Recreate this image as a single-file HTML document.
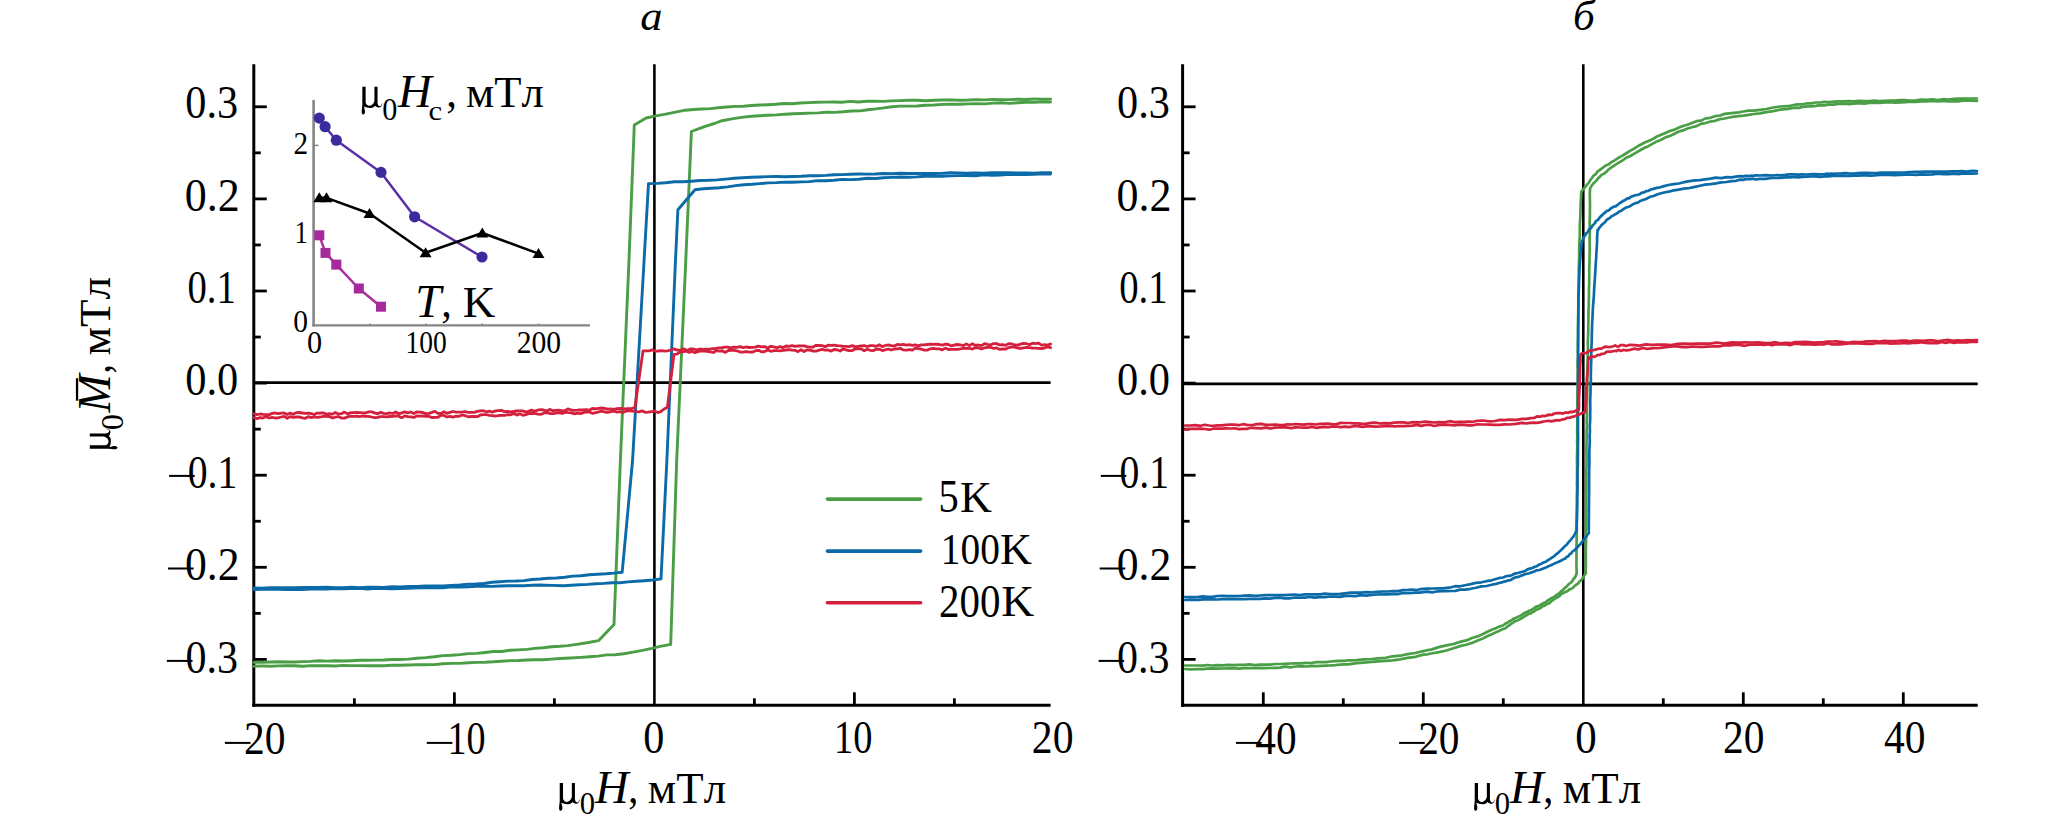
<!DOCTYPE html>
<html><head><meta charset="utf-8"><style>
html,body{margin:0;padding:0;background:#fff;width:2067px;height:817px;overflow:hidden}
svg text{font-family:"Liberation Serif", serif;fill:#000;font-kerning:none}
</style></head><body>
<svg width="2067" height="817" viewBox="0 0 2067 817" style="display:block"><rect width="2067" height="817" fill="#fff"/><line x1="253.8" y1="64.2" x2="253.8" y2="706.8" stroke="#000" stroke-width="3.0"/><line x1="252.3" y1="705.3" x2="1050.6" y2="705.3" stroke="#000" stroke-width="3.0"/><line x1="654.4" y1="64.2" x2="654.4" y2="705.3" stroke="#000" stroke-width="2.6"/><line x1="253.8" y1="382.7" x2="1050.6" y2="382.7" stroke="#000" stroke-width="2.8"/><line x1="253.8" y1="659.4000000000001" x2="266.8" y2="659.4000000000001" stroke="#000" stroke-width="2.8"/><line x1="253.8" y1="567.3000000000001" x2="266.8" y2="567.3000000000001" stroke="#000" stroke-width="2.8"/><line x1="253.8" y1="475.20000000000005" x2="266.8" y2="475.20000000000005" stroke="#000" stroke-width="2.8"/><line x1="253.8" y1="383.1" x2="266.8" y2="383.1" stroke="#000" stroke-width="2.8"/><line x1="253.8" y1="291.0" x2="266.8" y2="291.0" stroke="#000" stroke-width="2.8"/><line x1="253.8" y1="198.9" x2="266.8" y2="198.9" stroke="#000" stroke-width="2.8"/><line x1="253.8" y1="106.80000000000001" x2="266.8" y2="106.80000000000001" stroke="#000" stroke-width="2.8"/><line x1="253.8" y1="613.35" x2="260.8" y2="613.35" stroke="#000" stroke-width="2.8"/><line x1="253.8" y1="521.25" x2="260.8" y2="521.25" stroke="#000" stroke-width="2.8"/><line x1="253.8" y1="429.15000000000003" x2="260.8" y2="429.15000000000003" stroke="#000" stroke-width="2.8"/><line x1="253.8" y1="337.05" x2="260.8" y2="337.05" stroke="#000" stroke-width="2.8"/><line x1="253.8" y1="244.95000000000002" x2="260.8" y2="244.95000000000002" stroke="#000" stroke-width="2.8"/><line x1="253.8" y1="152.85000000000002" x2="260.8" y2="152.85000000000002" stroke="#000" stroke-width="2.8"/><line x1="454.4" y1="705.3" x2="454.4" y2="692.3" stroke="#000" stroke-width="2.8"/><line x1="854.4" y1="705.3" x2="854.4" y2="692.3" stroke="#000" stroke-width="2.8"/><line x1="354.4" y1="705.3" x2="354.4" y2="698.3" stroke="#000" stroke-width="2.8"/><line x1="554.4" y1="705.3" x2="554.4" y2="698.3" stroke="#000" stroke-width="2.8"/><line x1="754.4" y1="705.3" x2="754.4" y2="698.3" stroke="#000" stroke-width="2.8"/><line x1="954.4" y1="705.3" x2="954.4" y2="698.3" stroke="#000" stroke-width="2.8"/><line x1="1182.6" y1="64.2" x2="1182.6" y2="706.8" stroke="#000" stroke-width="3.0"/><line x1="1181.1" y1="705.3" x2="1977.7" y2="705.3" stroke="#000" stroke-width="3.0"/><line x1="1583.3" y1="64.2" x2="1583.3" y2="705.3" stroke="#000" stroke-width="2.6"/><line x1="1182.6" y1="383.9" x2="1977.7" y2="383.9" stroke="#000" stroke-width="2.8"/><line x1="1182.6" y1="659.4000000000001" x2="1195.6" y2="659.4000000000001" stroke="#000" stroke-width="2.8"/><line x1="1182.6" y1="567.3000000000001" x2="1195.6" y2="567.3000000000001" stroke="#000" stroke-width="2.8"/><line x1="1182.6" y1="475.20000000000005" x2="1195.6" y2="475.20000000000005" stroke="#000" stroke-width="2.8"/><line x1="1182.6" y1="383.1" x2="1195.6" y2="383.1" stroke="#000" stroke-width="2.8"/><line x1="1182.6" y1="291.0" x2="1195.6" y2="291.0" stroke="#000" stroke-width="2.8"/><line x1="1182.6" y1="198.9" x2="1195.6" y2="198.9" stroke="#000" stroke-width="2.8"/><line x1="1182.6" y1="106.80000000000001" x2="1195.6" y2="106.80000000000001" stroke="#000" stroke-width="2.8"/><line x1="1182.6" y1="613.35" x2="1189.6" y2="613.35" stroke="#000" stroke-width="2.8"/><line x1="1182.6" y1="521.25" x2="1189.6" y2="521.25" stroke="#000" stroke-width="2.8"/><line x1="1182.6" y1="429.15000000000003" x2="1189.6" y2="429.15000000000003" stroke="#000" stroke-width="2.8"/><line x1="1182.6" y1="337.05" x2="1189.6" y2="337.05" stroke="#000" stroke-width="2.8"/><line x1="1182.6" y1="244.95000000000002" x2="1189.6" y2="244.95000000000002" stroke="#000" stroke-width="2.8"/><line x1="1182.6" y1="152.85000000000002" x2="1189.6" y2="152.85000000000002" stroke="#000" stroke-width="2.8"/><line x1="1263.3" y1="705.3" x2="1263.3" y2="692.3" stroke="#000" stroke-width="2.8"/><line x1="1423.3" y1="705.3" x2="1423.3" y2="692.3" stroke="#000" stroke-width="2.8"/><line x1="1743.3" y1="705.3" x2="1743.3" y2="692.3" stroke="#000" stroke-width="2.8"/><line x1="1903.3" y1="705.3" x2="1903.3" y2="692.3" stroke="#000" stroke-width="2.8"/><line x1="1343.3" y1="705.3" x2="1343.3" y2="698.3" stroke="#000" stroke-width="2.8"/><line x1="1503.3" y1="705.3" x2="1503.3" y2="698.3" stroke="#000" stroke-width="2.8"/><line x1="1663.3" y1="705.3" x2="1663.3" y2="698.3" stroke="#000" stroke-width="2.8"/><line x1="1823.3" y1="705.3" x2="1823.3" y2="698.3" stroke="#000" stroke-width="2.8"/><text transform="translate(185.29,118.35) scale(0.9234,1.0)" x="0" y="0" font-size="45.8" style="">0.3</text><text transform="translate(1116.99,118.35) scale(0.9234,1.0)" x="0" y="0" font-size="45.8" style="">0.3</text><text transform="translate(184.72,210.55) scale(0.9608,1.0)" x="0" y="0" font-size="45.8" style="">0.2</text><text transform="translate(1116.42,210.55) scale(0.9608,1.0)" x="0" y="0" font-size="45.8" style="">0.2</text><text transform="translate(187.43,302.55) scale(0.8454,1.0)" x="0" y="0" font-size="45.8" style="">0.1</text><text transform="translate(1119.13,302.55) scale(0.8454,1.0)" x="0" y="0" font-size="45.8" style="">0.1</text><text transform="translate(185.28,394.95) scale(0.9263,1.0)" x="0" y="0" font-size="45.8" style="">0.0</text><text transform="translate(1116.98,394.95) scale(0.9263,1.0)" x="0" y="0" font-size="45.8" style="">0.0</text><text transform="translate(187.69,487.55) scale(0.8663,1.0)" x="0" y="0" font-size="45.8" style="">0.1</text><rect x="169.10" y="474.90" width="25.6" height="2.0" fill="#000"/><text transform="translate(1119.39,487.55) scale(0.8663,1.0)" x="0" y="0" font-size="45.8" style="">0.1</text><rect x="1100.80" y="474.90" width="25.6" height="2.0" fill="#000"/><text transform="translate(184.94,580.15) scale(0.9532,1.0)" x="0" y="0" font-size="45.8" style="">0.2</text><rect x="168.00" y="567.50" width="25.6" height="2.0" fill="#000"/><text transform="translate(1116.64,580.15) scale(0.9532,1.0)" x="0" y="0" font-size="45.8" style="">0.2</text><rect x="1099.70" y="567.50" width="25.6" height="2.0" fill="#000"/><text transform="translate(185.40,672.55) scale(0.9178,1.0)" x="0" y="0" font-size="45.8" style="">0.3</text><rect x="166.90" y="659.90" width="25.6" height="2.0" fill="#000"/><text transform="translate(1117.10,672.55) scale(0.9178,1.0)" x="0" y="0" font-size="45.8" style="">0.3</text><rect x="1098.60" y="659.90" width="25.6" height="2.0" fill="#000"/><text transform="translate(243.98,754.25) scale(0.9102,1.0)" x="0" y="0" font-size="45.6" style="">20</text><rect x="224.90" y="741.90" width="25.6" height="2.0" fill="#000"/><text transform="translate(447.45,754.25) scale(0.8355,1.0)" x="0" y="0" font-size="45.6" style="">10</text><rect x="426.80" y="741.90" width="25.6" height="2.0" fill="#000"/><text transform="translate(643.29,753.35) scale(0.9262,1.0)" x="0" y="0" font-size="45.6" style="">0</text><text transform="translate(834.02,753.35) scale(0.8430,1.0)" x="0" y="0" font-size="45.6" style="">10</text><text transform="translate(1031.87,753.35) scale(0.9150,1.0)" x="0" y="0" font-size="45.6" style="">20</text><text transform="translate(1255.29,754.25) scale(0.9052,1.0)" x="0" y="0" font-size="45.6" style="">40</text><rect x="1236.00" y="741.90" width="25.6" height="2.0" fill="#000"/><text transform="translate(1418.18,754.25) scale(0.9078,1.0)" x="0" y="0" font-size="45.6" style="">20</text><rect x="1399.10" y="741.90" width="25.6" height="2.0" fill="#000"/><text transform="translate(1575.16,753.35) scale(0.9417,1.0)" x="0" y="0" font-size="45.6" style="">0</text><text transform="translate(1723.08,753.35) scale(0.9078,1.0)" x="0" y="0" font-size="45.6" style="">20</text><text transform="translate(1884.09,753.35) scale(0.9099,1.0)" x="0" y="0" font-size="45.6" style="">40</text><text transform="translate(640.27,29.50) scale(1.0423,1.0)" x="0" y="0" font-size="42.8" style="font-style:italic;">а</text><text transform="translate(1572.90,29.50) scale(1.0099,1.0)" x="0" y="0" font-size="42.8" style="font-style:italic;">б</text><path transform="translate(558.90,802.90) scale(1.0)" d="M0.83,-19.83 L4.13,-19.83 L4.13,-4.4 C4.5,-2.4 6.0,-1.0 7.88,-1.0 C10.0,-1.0 12.2,-2.9 12.94,-5.8 L12.94,-19.83 L16.03,-19.83 L16.03,-3.75 C16.3,-1.5 17.5,-0.45 18.45,-0.45 C19.4,-0.45 20.1,-2.0 20.65,-3.75 L20.87,-3.09 C20.5,-1.2 19.3,0.87 18.0,0.87 C16.5,0.87 14.2,0.4 13.6,-0.89 C12.8,0.3 11.5,1.2 9.5,1.25 C7.0,1.4 4.5,1.0 2.37,-0.1 C2.8,1.5 3.6,4.0 3.47,5.06 C3.5,6.5 2.7,7.92 1.71,7.92 C0.8,7.92 0.17,6.5 0.17,5.5 C0.17,3.5 0.83,0 0.83,-2.87 Z" fill="#000"/><text transform="translate(579.73,814.30) scale(1.0024,1.0)" x="0" y="0" font-size="30.6" style="">0</text><text transform="translate(595.10,802.90) scale(1.0206,1.0)" x="0" y="0" font-size="45.6" style="font-style:italic;">H</text><text transform="translate(628.37,802.90) scale(0.9156,1.0)" x="0" y="0" font-size="44" style="">,</text><text transform="translate(647.87,802.90) scale(1.0196,1.0)" x="0" y="0" font-size="44" style="">мТл</text><path transform="translate(1473.90,802.90) scale(1.0)" d="M0.83,-19.83 L4.13,-19.83 L4.13,-4.4 C4.5,-2.4 6.0,-1.0 7.88,-1.0 C10.0,-1.0 12.2,-2.9 12.94,-5.8 L12.94,-19.83 L16.03,-19.83 L16.03,-3.75 C16.3,-1.5 17.5,-0.45 18.45,-0.45 C19.4,-0.45 20.1,-2.0 20.65,-3.75 L20.87,-3.09 C20.5,-1.2 19.3,0.87 18.0,0.87 C16.5,0.87 14.2,0.4 13.6,-0.89 C12.8,0.3 11.5,1.2 9.5,1.25 C7.0,1.4 4.5,1.0 2.37,-0.1 C2.8,1.5 3.6,4.0 3.47,5.06 C3.5,6.5 2.7,7.92 1.71,7.92 C0.8,7.92 0.17,6.5 0.17,5.5 C0.17,3.5 0.83,0 0.83,-2.87 Z" fill="#000"/><text transform="translate(1494.73,814.30) scale(1.0024,1.0)" x="0" y="0" font-size="30.6" style="">0</text><text transform="translate(1510.10,802.90) scale(1.0206,1.0)" x="0" y="0" font-size="45.6" style="font-style:italic;">H</text><text transform="translate(1543.37,802.90) scale(0.9156,1.0)" x="0" y="0" font-size="44" style="">,</text><text transform="translate(1562.87,802.90) scale(1.0196,1.0)" x="0" y="0" font-size="44" style="">мТл</text><g transform="translate(109.6,449.3) rotate(-90)"><path transform="translate(-0.20,0.00) scale(1.0)" d="M0.83,-19.83 L4.13,-19.83 L4.13,-4.4 C4.5,-2.4 6.0,-1.0 7.88,-1.0 C10.0,-1.0 12.2,-2.9 12.94,-5.8 L12.94,-19.83 L16.03,-19.83 L16.03,-3.75 C16.3,-1.5 17.5,-0.45 18.45,-0.45 C19.4,-0.45 20.1,-2.0 20.65,-3.75 L20.87,-3.09 C20.5,-1.2 19.3,0.87 18.0,0.87 C16.5,0.87 14.2,0.4 13.6,-0.89 C12.8,0.3 11.5,1.2 9.5,1.25 C7.0,1.4 4.5,1.0 2.37,-0.1 C2.8,1.5 3.6,4.0 3.47,5.06 C3.5,6.5 2.7,7.92 1.71,7.92 C0.8,7.92 0.17,6.5 0.17,5.5 C0.17,3.5 0.83,0 0.83,-2.87 Z" fill="#000"/><text transform="translate(19.17,12.90) scale(1.0564,1.0)" x="0" y="0" font-size="30.6" style="">0</text><text transform="translate(36.84,0.00) scale(1.0068,1.0)" x="0" y="0" font-size="45.5" style="font-style:italic;">M</text><rect x="48.6" y="-33.7" width="22.5" height="2.3" fill="#000"/><text transform="translate(75.69,0.00) scale(0.8393,1.0)" x="0" y="0" font-size="44" style="">,</text><text transform="translate(93.87,0.00) scale(1.0236,1.0)" x="0" y="0" font-size="44" style="">мТл</text></g><line x1="827.4" y1="499.1" x2="920.6" y2="499.1" stroke="#4a9e45" stroke-width="3.6" stroke-linecap="round"/><line x1="827.4" y1="551.1" x2="920.6" y2="551.1" stroke="#0b6aa8" stroke-width="3.6" stroke-linecap="round"/><line x1="827.4" y1="602.8" x2="920.6" y2="602.8" stroke="#d41f3d" stroke-width="3.6" stroke-linecap="round"/><text transform="translate(938.45,511.80) scale(0.8913,1.0)" x="0" y="0" font-size="45.4" style="">5</text><text transform="translate(959.93,511.60) scale(0.9935,1.0)" x="0" y="0" font-size="44.5" style="">K</text><text transform="translate(940.84,564.20) scale(0.8711,1.0)" x="0" y="0" font-size="45.2" style="">100</text><text transform="translate(1000.03,564.10) scale(0.9935,1.0)" x="0" y="0" font-size="44.5" style="">K</text><text transform="translate(939.00,616.60) scale(0.9005,1.0)" x="0" y="0" font-size="45.5" style="">200</text><text transform="translate(1001.28,616.20) scale(1.0264,1.0)" x="0" y="0" font-size="44.5" style="">K</text><path d="M1050.6,99.1 L1042.4,99.1 L1034.1,99.0 L1025.9,99.5 L1017.7,99.2 L1009.4,99.6 L1001.2,99.6 L992.9,99.4 L984.7,99.9 L976.5,99.6 L968.2,100.0 L960.0,100.2 L951.4,99.9 L942.9,100.0 L934.3,100.3 L925.7,100.7 L917.1,100.2 L908.6,100.3 L900.0,100.6 L891.7,100.9 L883.3,101.4 L875.0,101.3 L866.7,101.3 L858.3,102.0 L850.0,101.4 L841.7,102.3 L833.3,102.0 L825.0,102.1 L816.7,102.3 L808.3,102.6 L800.0,103.0 L792.0,103.7 L784.0,103.5 L776.0,104.3 L768.0,104.7 L760.0,105.0 L751.7,105.5 L743.4,106.2 L735.1,106.4 L726.8,107.0 L718.5,107.7 L710.2,108.6 L701.9,109.0 L693.6,109.5 L685.3,110.2 L675.5,112.2 L665.7,114.1 L655.9,115.9 L646.1,118.0 L634.3,124.9 L629.0,260.0 L620.4,460.0 L614.0,624.5 L598.7,640.6 L588.4,642.5 L578.2,644.1 L567.9,645.6 L560.0,646.3 L551.7,646.8 L543.3,647.7 L535.0,648.4 L526.7,649.4 L518.3,649.9 L510.0,650.3 L501.7,651.5 L493.3,651.5 L485.0,652.5 L476.7,653.4 L468.3,653.6 L460.0,654.6 L451.4,655.3 L442.9,655.6 L434.3,656.8 L425.7,657.6 L417.1,658.2 L408.6,659.1 L400.0,659.5 L391.9,659.5 L383.8,660.0 L375.7,660.1 L367.6,660.2 L359.4,660.3 L351.3,660.7 L343.2,661.0 L335.1,660.8 L327.0,661.1 L318.9,660.8 L310.8,661.4 L302.7,661.6 L294.6,662.0 L286.4,662.0 L278.3,661.7 L270.2,662.0 L262.1,662.4 L254.0,662.4" fill="none" stroke="#4a9e45" stroke-width="2.9" stroke-linejoin="round" stroke-linecap="round" opacity="1.0"/><path d="M254.0,666.3 L262.1,665.9 L270.2,666.2 L278.3,665.9 L286.4,665.8 L294.6,665.7 L302.7,666.2 L310.8,665.6 L318.9,665.7 L327.0,665.7 L335.1,666.0 L343.2,665.4 L351.3,665.6 L359.4,665.6 L367.6,665.8 L375.7,665.7 L383.8,665.7 L391.9,665.2 L400.0,665.3 L408.6,665.0 L417.1,664.6 L425.7,664.8 L434.3,664.6 L442.9,663.7 L451.4,663.4 L460.0,663.4 L468.3,662.8 L476.7,662.4 L485.0,662.2 L493.3,661.8 L501.7,661.2 L510.0,660.6 L518.3,660.5 L526.7,660.0 L535.0,659.8 L543.3,659.7 L551.7,659.1 L560.0,658.5 L570.5,658.0 L581.1,657.4 L589.6,656.8 L598.1,656.1 L606.7,654.9 L615.2,654.8 L623.7,653.8 L633.1,652.1 L642.5,650.3 L651.9,648.4 L661.3,646.2 L670.7,644.4 L676.7,460.0 L685.8,260.0 L691.4,131.5 L699.0,128.7 L706.7,125.8 L714.4,123.5 L722.0,120.7 L731.8,118.9 L741.6,117.4 L751.4,116.3 L759.8,115.7 L768.1,115.2 L776.5,114.9 L784.8,114.3 L793.2,113.8 L801.5,113.5 L809.9,113.1 L818.2,112.9 L826.6,112.2 L834.9,112.4 L843.3,111.8 L851.6,111.0 L860.0,110.9 L868.0,109.7 L876.0,108.9 L884.0,107.9 L892.0,106.8 L900.0,106.1 L908.6,106.1 L917.1,106.0 L925.7,105.3 L934.3,105.0 L942.9,104.4 L951.4,104.2 L960.0,104.2 L968.2,103.9 L976.5,103.6 L984.7,103.9 L992.9,103.1 L1001.2,102.8 L1009.4,103.4 L1017.7,102.8 L1025.9,102.3 L1034.1,102.4 L1042.4,101.8 L1050.6,102.0" fill="none" stroke="#4a9e45" stroke-width="2.9" stroke-linejoin="round" stroke-linecap="round" opacity="1.0"/><path d="M1050.6,172.6 L1042.2,172.7 L1033.9,173.1 L1025.5,173.0 L1017.1,172.9 L1008.8,172.6 L1000.4,172.7 L992.0,172.6 L983.7,173.1 L975.3,173.0 L966.9,173.2 L958.6,172.9 L950.2,172.8 L941.8,173.4 L933.5,173.5 L925.1,173.5 L916.7,173.5 L908.4,173.5 L900.0,173.3 L891.8,173.7 L883.5,173.5 L875.3,174.0 L867.1,174.1 L858.8,174.0 L850.6,174.2 L842.4,174.6 L834.1,174.8 L825.9,175.4 L817.6,175.8 L809.4,175.7 L801.2,176.3 L792.9,176.5 L784.7,176.7 L776.5,176.5 L768.2,176.6 L760.0,177.0 L751.4,177.3 L742.8,177.8 L734.3,178.3 L725.7,179.1 L717.1,179.9 L708.5,180.3 L700.0,180.5 L691.4,181.2 L682.8,181.8 L674.2,181.7 L665.7,182.7 L657.1,183.4 L648.5,183.6 L644.1,260.0 L632.6,460.0 L622.2,572.2 L614.0,573.1 L605.8,573.8 L597.5,574.2 L589.3,574.7 L581.1,575.8 L572.9,576.1 L564.7,577.2 L556.4,578.0 L548.2,578.2 L540.0,579.0 L532.0,579.5 L524.0,580.6 L516.0,581.0 L508.0,581.1 L500.0,581.7 L492.0,582.3 L484.0,583.5 L476.0,584.0 L468.0,584.1 L460.0,585.0 L451.4,585.5 L442.9,586.0 L434.3,586.0 L425.7,586.0 L417.1,586.5 L408.6,586.4 L400.0,587.0 L391.9,586.7 L383.8,587.5 L375.7,587.3 L367.6,587.2 L359.4,587.6 L351.3,587.3 L343.2,587.7 L335.1,587.7 L327.0,587.3 L318.9,587.4 L310.8,587.4 L302.7,587.5 L294.6,587.8 L286.4,587.6 L278.3,587.8 L270.2,587.6 L262.1,588.3 L254.0,588.0" fill="none" stroke="#0b6aa8" stroke-width="2.9" stroke-linejoin="round" stroke-linecap="round" opacity="1.0"/><path d="M254.0,589.5 L262.1,589.3 L270.2,589.4 L278.3,589.4 L286.4,589.6 L294.6,589.2 L302.7,589.5 L310.8,589.1 L318.9,589.1 L327.0,589.0 L335.1,588.6 L343.2,588.8 L351.3,588.6 L359.4,588.4 L367.6,589.0 L375.7,588.4 L383.8,588.6 L391.9,588.7 L400.0,588.5 L408.6,588.3 L417.1,587.9 L425.7,587.9 L434.3,587.7 L442.9,587.7 L451.4,586.9 L460.0,587.0 L468.0,586.8 L476.0,586.4 L484.0,586.2 L492.0,586.4 L500.0,586.0 L508.0,585.8 L516.0,585.8 L524.0,585.7 L532.0,585.2 L540.0,585.0 L551.8,585.4 L563.5,585.7 L571.6,585.2 L579.6,584.8 L587.7,584.4 L595.8,583.8 L603.9,583.4 L612.0,582.8 L620.0,582.7 L628.1,581.9 L636.3,581.3 L644.5,580.7 L652.8,580.0 L661.0,578.9 L666.9,460.0 L675.5,260.0 L677.9,209.8 L695.0,189.7 L703.1,188.7 L711.2,188.2 L719.4,187.8 L727.5,186.9 L735.6,185.6 L743.8,184.8 L751.9,184.3 L760.0,183.6 L768.2,182.9 L776.5,182.6 L784.7,182.1 L792.9,182.2 L801.2,181.9 L809.4,181.6 L817.6,180.6 L825.9,180.7 L834.1,180.2 L842.4,179.4 L850.6,179.6 L858.8,179.3 L867.1,178.3 L875.3,178.5 L883.5,177.7 L891.8,177.4 L900.0,177.0 L908.4,177.2 L916.7,176.9 L925.1,176.2 L933.5,176.3 L941.8,176.2 L950.2,175.9 L958.6,175.6 L966.9,175.5 L975.3,175.7 L983.7,174.9 L992.0,175.2 L1000.4,175.0 L1008.8,174.4 L1017.1,174.5 L1025.5,174.6 L1033.9,174.3 L1042.2,173.8 L1050.6,174.0" fill="none" stroke="#0b6aa8" stroke-width="2.9" stroke-linejoin="round" stroke-linecap="round" opacity="1.0"/><path d="M1050.6,344.0 L1047.6,345.1 L1044.6,344.7 L1041.6,345.1 L1038.6,343.2 L1035.6,343.6 L1032.6,343.2 L1029.6,344.8 L1026.5,343.7 L1023.5,343.4 L1020.5,344.1 L1017.5,345.2 L1014.5,345.0 L1011.5,343.8 L1008.5,343.6 L1005.5,345.4 L1002.5,344.6 L999.5,344.9 L996.5,343.6 L993.5,343.6 L990.5,345.0 L987.5,344.4 L984.5,343.7 L981.4,345.6 L978.4,345.0 L975.4,345.4 L972.4,343.8 L969.4,345.6 L966.4,343.9 L963.4,345.6 L960.4,344.8 L957.4,344.5 L954.4,345.0 L951.4,345.9 L948.4,344.5 L945.4,344.2 L942.4,345.1 L939.4,344.5 L936.3,344.2 L933.3,344.4 L930.3,344.2 L927.3,344.5 L924.3,344.8 L921.3,344.8 L918.3,345.8 L915.3,344.8 L912.3,345.3 L909.3,344.6 L906.3,345.1 L903.3,344.4 L900.3,344.9 L897.3,344.4 L894.3,346.0 L891.2,345.6 L888.2,344.9 L885.2,345.5 L882.2,346.6 L879.2,344.8 L876.2,346.4 L873.2,345.6 L870.2,345.7 L867.2,346.5 L864.2,345.6 L861.2,345.8 L858.2,346.3 L855.2,346.9 L852.2,345.6 L849.2,346.7 L846.1,346.4 L843.1,346.3 L840.1,345.8 L837.1,345.7 L834.1,345.1 L831.1,345.3 L828.1,345.2 L825.1,346.7 L822.1,345.7 L819.1,345.5 L816.1,345.3 L813.1,347.0 L810.1,347.1 L807.1,346.7 L804.1,345.9 L801.0,345.8 L798.0,346.0 L795.0,346.4 L792.0,345.7 L789.0,346.4 L786.0,346.0 L783.0,347.6 L780.0,346.6 L776.9,347.7 L773.8,346.9 L770.8,346.3 L767.7,348.0 L764.6,346.6 L761.5,346.8 L758.5,346.1 L755.4,347.1 L752.3,347.4 L749.2,347.5 L746.2,347.0 L743.1,347.7 L740.0,346.7 L736.9,347.4 L733.8,347.1 L730.8,347.9 L727.7,347.2 L724.6,347.2 L721.5,347.9 L718.5,347.9 L715.4,348.7 L712.3,348.7 L709.2,349.3 L706.2,349.2 L703.1,349.4 L700.0,349.0 L696.7,349.9 L693.5,349.0 L690.2,349.0 L686.9,350.5 L683.7,348.8 L680.4,350.2 L677.1,350.1 L673.9,348.9 L670.6,350.0 L667.5,350.8 L664.5,351.1 L661.4,350.6 L658.3,351.0 L655.3,351.2 L652.2,349.9 L649.1,350.8 L646.1,350.9 L643.0,351.0 L634.9,407.7 L631.2,408.6 L627.5,408.7 L623.7,408.9 L620.0,408.3 L616.9,408.6 L613.8,409.4 L610.8,409.0 L607.7,409.2 L604.6,408.3 L601.5,408.0 L598.5,408.3 L595.4,408.9 L592.3,408.5 L589.2,410.2 L586.2,409.7 L583.1,410.0 L580.0,409.8 L577.0,410.1 L574.0,410.3 L570.9,410.0 L567.9,408.9 L564.9,410.8 L561.9,410.7 L558.8,410.2 L555.8,410.4 L552.8,410.7 L549.8,409.4 L546.7,411.0 L543.7,410.0 L540.7,409.6 L537.7,410.1 L534.7,411.2 L531.6,410.1 L528.6,411.4 L525.6,411.9 L522.6,410.9 L519.5,410.8 L516.5,411.0 L513.5,411.5 L510.5,411.8 L507.4,411.5 L504.4,411.6 L501.4,410.4 L498.4,410.7 L495.3,411.0 L492.3,412.1 L489.3,411.2 L486.3,411.8 L483.3,410.7 L480.2,410.8 L477.2,411.3 L474.2,412.3 L471.2,412.4 L468.1,412.4 L465.1,411.6 L462.1,412.2 L459.1,412.1 L456.0,412.2 L453.0,411.5 L450.0,412.4 L447.0,413.3 L444.0,411.8 L441.0,413.5 L437.9,413.4 L434.9,411.4 L431.9,412.4 L428.9,413.3 L425.9,413.6 L422.9,412.5 L419.8,412.1 L416.8,412.0 L413.8,413.6 L410.8,412.0 L407.8,412.9 L404.8,411.9 L401.8,412.8 L398.7,413.8 L395.7,412.0 L392.7,413.5 L389.7,412.9 L386.7,413.7 L383.7,413.3 L380.6,412.3 L377.6,413.8 L374.6,412.9 L371.6,411.9 L368.6,411.9 L365.6,413.0 L362.6,412.9 L359.5,412.6 L356.5,412.3 L353.5,412.7 L350.5,412.7 L347.5,413.9 L344.5,412.1 L341.4,413.7 L338.4,413.9 L335.4,412.4 L332.4,414.2 L329.4,413.7 L326.4,414.2 L323.4,412.8 L320.3,413.0 L317.3,413.1 L314.3,414.5 L311.3,413.6 L308.3,413.1 L305.3,413.3 L302.2,413.0 L299.2,412.5 L296.2,412.6 L293.2,414.3 L290.2,413.1 L287.2,414.5 L284.2,413.0 L281.1,413.1 L278.1,413.7 L275.1,413.0 L272.1,413.4 L269.1,414.7 L266.1,414.6 L263.0,414.4 L260.0,414.0 L257.0,414.7 L254.0,413.8" fill="none" stroke="#d41f3d" stroke-width="2.8" stroke-linejoin="round" stroke-linecap="round" opacity="1.0"/><path d="M254.0,417.6 L257.0,418.6 L260.0,417.7 L263.0,418.0 L266.1,416.5 L269.1,418.0 L272.1,417.4 L275.1,418.0 L278.1,417.8 L281.1,417.0 L284.2,416.4 L287.2,418.3 L290.2,416.6 L293.2,417.3 L296.2,417.0 L299.2,416.9 L302.2,417.8 L305.3,418.3 L308.3,416.7 L311.3,417.6 L314.3,416.8 L317.3,417.3 L320.3,417.0 L323.4,416.4 L326.4,416.4 L329.4,416.5 L332.4,418.0 L335.4,417.1 L338.4,416.5 L341.4,418.0 L344.5,418.1 L347.5,416.9 L350.5,416.2 L353.5,416.3 L356.5,416.1 L359.5,416.6 L362.6,416.0 L365.6,416.3 L368.6,416.4 L371.6,417.0 L374.6,417.7 L377.6,417.4 L380.6,416.6 L383.7,416.6 L386.7,416.8 L389.7,416.5 L392.7,416.4 L395.7,415.8 L398.7,416.2 L401.8,417.7 L404.8,415.9 L407.8,416.7 L410.8,416.9 L413.8,417.4 L416.8,416.0 L419.8,416.1 L422.9,416.0 L425.9,416.3 L428.9,416.4 L431.9,417.5 L434.9,417.3 L437.9,417.3 L441.0,415.4 L444.0,415.4 L447.0,416.9 L450.0,416.4 L453.0,417.2 L456.1,416.2 L459.1,416.3 L462.1,415.0 L465.2,415.7 L468.2,416.8 L471.2,416.5 L474.3,416.5 L477.3,416.7 L480.4,415.0 L483.4,414.6 L486.4,414.6 L489.5,415.3 L492.5,415.6 L495.5,416.1 L498.6,415.5 L501.6,415.3 L504.6,415.4 L507.7,414.7 L510.7,414.8 L513.8,413.6 L516.8,415.1 L519.8,413.8 L522.9,415.3 L525.9,414.6 L528.9,413.7 L532.0,413.3 L535.0,413.5 L538.0,414.2 L541.1,414.3 L544.1,412.9 L547.1,412.7 L550.2,413.6 L553.2,413.7 L556.2,413.2 L559.3,412.7 L562.3,413.5 L565.4,412.1 L568.4,412.6 L571.4,412.9 L574.5,413.9 L577.5,413.1 L580.5,413.6 L583.6,412.6 L586.6,412.0 L589.6,411.9 L592.7,413.4 L595.7,412.7 L598.8,411.8 L601.8,411.1 L604.8,412.0 L607.9,412.3 L610.9,411.7 L613.9,411.2 L617.0,412.1 L620.0,411.6 L623.1,412.5 L626.3,411.0 L629.4,410.6 L632.6,411.2 L635.7,411.4 L638.8,412.0 L642.0,410.9 L645.1,412.3 L648.2,412.1 L651.4,411.6 L654.5,411.0 L657.7,412.6 L660.8,411.6 L664.1,409.0 L667.4,407.2 L674.0,354.3 L676.9,354.2 L679.9,352.0 L682.8,351.8 L685.8,351.2 L688.9,352.3 L691.9,351.3 L694.9,352.7 L698.0,351.6 L701.0,350.9 L704.1,351.0 L707.1,351.4 L710.1,351.9 L713.2,352.5 L716.2,350.7 L719.2,351.2 L722.3,350.8 L725.3,352.4 L728.4,350.5 L731.4,350.3 L734.4,350.3 L737.5,351.0 L740.5,352.1 L743.5,352.0 L746.6,351.7 L749.6,352.2 L752.7,352.0 L755.7,350.7 L758.7,350.3 L761.8,351.9 L764.8,351.5 L767.9,349.9 L770.9,351.3 L773.9,350.6 L777.0,350.6 L780.0,350.8 L783.0,350.4 L786.0,350.0 L789.0,349.6 L792.0,350.2 L795.0,350.3 L798.0,351.6 L801.0,349.7 L804.1,351.5 L807.1,349.8 L810.1,350.1 L813.1,351.1 L816.1,351.1 L819.1,350.2 L822.1,349.3 L825.1,350.2 L828.1,350.0 L831.1,351.1 L834.1,349.5 L837.1,349.8 L840.1,351.0 L843.1,349.0 L846.1,349.8 L849.2,350.7 L852.2,350.5 L855.2,348.9 L858.2,348.9 L861.2,348.9 L864.2,350.7 L867.2,349.2 L870.2,350.3 L873.2,350.6 L876.2,349.3 L879.2,349.1 L882.2,350.6 L885.2,349.8 L888.2,349.0 L891.2,350.0 L894.3,349.0 L897.3,348.9 L900.3,348.3 L903.3,349.9 L906.3,350.2 L909.3,349.6 L912.3,350.2 L915.3,348.2 L918.3,348.6 L921.3,349.1 L924.3,350.1 L927.3,350.1 L930.3,348.8 L933.3,348.4 L936.3,348.8 L939.4,348.9 L942.4,349.8 L945.4,348.1 L948.4,349.5 L951.4,349.3 L954.4,349.4 L957.4,349.3 L960.4,348.9 L963.4,348.3 L966.4,348.2 L969.4,348.3 L972.4,349.1 L975.4,347.6 L978.4,347.8 L981.4,349.0 L984.5,347.8 L987.5,347.4 L990.5,347.3 L993.5,348.4 L996.5,347.9 L999.5,349.3 L1002.5,349.0 L1005.5,349.2 L1008.5,347.6 L1011.5,347.1 L1014.5,347.1 L1017.5,348.0 L1020.5,348.4 L1023.5,347.8 L1026.5,347.3 L1029.6,347.7 L1032.6,348.1 L1035.6,348.2 L1038.6,348.3 L1041.6,348.5 L1044.6,348.0 L1047.6,346.8 L1050.6,347.6" fill="none" stroke="#d41f3d" stroke-width="2.8" stroke-linejoin="round" stroke-linecap="round" opacity="1.0"/><path d="M1977.0,98.5 L1971.2,98.5 L1963.3,98.7 L1958.6,98.7 L1953.8,98.9 L1948.6,99.6 L1943.5,99.2 L1938.0,100.0 L1932.5,99.4 L1927.0,99.9 L1921.4,99.6 L1915.8,100.4 L1910.4,100.6 L1905.0,100.2 L1899.9,100.2 L1895.1,100.7 L1890.1,100.6 L1885.0,100.8 L1879.7,101.1 L1874.7,100.6 L1869.4,101.1 L1864.1,101.0 L1858.8,100.9 L1853.7,101.4 L1848.7,101.1 L1843.5,101.4 L1838.7,101.4 L1833.8,101.6 L1829.1,102.1 L1824.4,101.9 L1820.0,102.5 L1815.7,102.5 L1811.3,103.3 L1807.2,103.3 L1803.1,104.3 L1799.1,104.4 L1795.1,104.7 L1787.6,106.2 L1780.1,106.5 L1773.2,107.5 L1766.3,109.0 L1760.0,109.8 L1754.0,110.6 L1748.5,110.6 L1743.3,111.5 L1738.6,112.4 L1733.8,112.8 L1729.3,113.3 L1724.6,113.9 L1720.0,115.5 L1715.1,116.2 L1710.5,117.8 L1705.6,118.4 L1701.2,120.6 L1696.4,121.2 L1691.9,123.0 L1687.4,124.8 L1682.9,126.0 L1678.5,127.7 L1674.0,129.9 L1669.8,131.0 L1665.4,132.9 L1661.2,134.7 L1656.9,136.5 L1652.8,139.1 L1648.4,140.9 L1644.2,142.7 L1639.6,145.2 L1634.9,148.2 L1630.4,150.6 L1625.9,153.5 L1621.6,156.1 L1617.7,158.3 L1614.2,160.6 L1611.3,162.1 L1608.8,164.2 L1606.4,165.2 L1604.3,166.5 L1602.3,168.1 L1600.5,169.5 L1598.9,170.5 L1597.1,172.1 L1595.4,174.5 L1593.5,175.7 L1591.9,178.0 L1590.4,179.8 L1588.9,182.5 L1587.5,184.2 L1586.1,186.0 L1585.1,187.3 L1584.3,187.7 L1583.6,189.3 L1582.8,189.6 L1582.5,190.0 L1582.2,190.7 L1581.9,191.0 L1581.5,192.0 L1581.2,191.8 L1581.1,196.6 L1580.7,202.2 L1580.5,209.7 L1580.3,217.6 L1580.0,222.0 L1579.8,226.3 L1579.8,231.2 L1579.7,236.4 L1579.4,242.3 L1579.2,248.0 L1579.2,251.6 L1579.2,255.7 L1579.1,260.1 L1578.9,264.8 L1578.8,268.9 L1578.8,273.4 L1578.8,278.7 L1578.7,284.5 L1578.6,289.3 L1578.5,292.8 L1578.3,297.1 L1578.4,301.5 L1578.4,306.1 L1578.2,309.9 L1578.3,314.1 L1578.1,318.8 L1578.1,323.2 L1578.0,328.1 L1578.1,332.3 L1578.1,337.2 L1577.9,342.2 L1577.9,346.3 L1577.8,351.5 L1578.0,356.4 L1577.8,360.7 L1577.6,365.9 L1577.8,370.5 L1577.7,375.5 L1577.8,380.6 L1577.6,385.6 L1577.5,390.2 L1577.5,394.9 L1577.4,400.3 L1577.3,404.3 L1577.6,408.2 L1577.3,412.9 L1577.4,417.2 L1577.4,421.0 L1577.3,425.9 L1577.2,431.2 L1577.3,435.8 L1577.1,440.7 L1577.3,445.2 L1577.2,449.3 L1577.1,453.2 L1577.0,457.4 L1577.0,462.2 L1577.1,466.5 L1577.1,470.2 L1577.0,474.6 L1577.1,478.9 L1576.9,483.2 L1577.1,487.0 L1577.0,491.1 L1576.8,495.5 L1577.0,500.2 L1576.9,503.7 L1576.9,507.7 L1576.8,512.3 L1576.8,516.1 L1576.8,520.4 L1576.7,524.7 L1576.8,529.1 L1576.7,533.4 L1576.7,537.4 L1576.6,542.0 L1576.5,546.9 L1576.5,550.7 L1576.5,556.1 L1576.5,560.0 L1576.4,564.5 L1576.6,569.6 L1576.6,574.2 L1576.1,574.6 L1575.8,575.5 L1575.6,576.3 L1574.9,577.2 L1574.6,578.2 L1573.7,578.6 L1573.0,579.5 L1572.3,581.3 L1571.2,582.4 L1570.0,583.2 L1568.5,584.4 L1567.3,585.8 L1565.7,587.4 L1564.1,588.6 L1562.6,590.4 L1561.2,591.2 L1559.9,592.6 L1558.3,593.8 L1556.6,594.8 L1555.2,596.2 L1553.6,597.2 L1552.1,597.8 L1550.6,598.7 L1549.1,599.7 L1547.3,600.7 L1546.0,602.2 L1544.3,602.6 L1542.8,603.7 L1541.2,604.3 L1539.7,605.4 L1538.2,606.3 L1536.6,606.4 L1535.2,607.5 L1533.5,608.5 L1532.0,609.5 L1530.7,610.3 L1529.1,610.8 L1527.5,611.7 L1526.1,612.2 L1524.6,613.0 L1522.9,614.0 L1521.5,615.0 L1519.9,616.1 L1518.3,616.5 L1516.8,617.5 L1515.3,618.1 L1513.7,618.6 L1512.1,619.9 L1510.9,620.6 L1509.7,621.0 L1508.9,621.8 L1507.7,622.4 L1506.7,623.0 L1504.9,624.0 L1502.9,625.5 L1499.9,626.2 L1496.4,627.9 L1492.4,629.5 L1487.9,631.5 L1483.1,634.0 L1477.6,636.4 L1472.0,638.0 L1466.3,640.4 L1460.1,641.9 L1453.4,644.0 L1446.3,645.4 L1438.9,647.1 L1431.2,649.6 L1427.4,650.2 L1423.4,651.1 L1419.3,652.0 L1415.4,653.0 L1407.7,654.1 L1400.0,655.7 L1392.6,656.3 L1385.5,657.8 L1378.5,658.4 L1371.3,659.0 L1364.0,659.4 L1356.4,660.1 L1348.3,660.4 L1344.3,660.9 L1340.0,660.8 L1335.4,661.2 L1331.0,661.5 L1326.2,662.2 L1321.2,662.2 L1316.3,662.2 L1311.2,663.0 L1306.0,662.8 L1300.8,663.3 L1295.8,663.3 L1290.4,663.5 L1285.3,663.8 L1280.1,664.0 L1275.1,664.0 L1269.9,664.6 L1264.9,664.5 L1260.0,664.7 L1254.8,665.1 L1249.8,664.4 L1244.4,664.8 L1239.0,664.9 L1233.7,665.2 L1228.2,664.9 L1222.8,665.4 L1217.6,665.2 L1212.4,665.5 L1207.4,665.0 L1202.8,665.6 L1198.4,665.5 L1190.7,665.5 L1185.0,665.5" fill="none" stroke="#4a9e45" stroke-width="2.7" stroke-linejoin="round" stroke-linecap="round" opacity="1.0"/><path d="M1185.0,669.0 L1190.7,669.4 L1198.3,669.0 L1203.0,669.1 L1207.4,668.6 L1212.5,668.4 L1217.6,668.6 L1223.0,668.5 L1228.2,668.4 L1233.7,668.2 L1239.0,668.6 L1244.4,668.1 L1249.8,668.2 L1254.9,668.2 L1260.0,667.9 L1265.1,668.2 L1269.8,668.0 L1275.1,667.8 L1280.0,667.6 L1285.4,666.7 L1290.4,667.4 L1295.8,666.5 L1300.8,666.2 L1306.0,666.5 L1311.2,665.8 L1316.4,666.1 L1321.2,665.9 L1326.1,665.6 L1331.0,665.4 L1335.5,665.1 L1339.9,664.7 L1344.2,664.4 L1348.4,664.3 L1356.4,663.2 L1363.9,662.6 L1371.2,661.9 L1378.4,661.3 L1385.5,660.9 L1392.6,660.4 L1399.9,659.3 L1407.6,657.9 L1415.5,656.8 L1419.4,655.6 L1423.5,654.6 L1427.4,654.3 L1431.1,653.5 L1439.0,652.1 L1446.4,650.5 L1453.5,648.3 L1460.1,646.1 L1466.2,644.7 L1472.0,642.9 L1477.7,640.4 L1483.0,638.4 L1487.8,636.0 L1492.4,634.0 L1496.6,631.9 L1500.1,630.4 L1502.9,629.0 L1505.0,628.5 L1506.6,627.4 L1507.8,626.1 L1508.8,625.6 L1509.8,625.0 L1510.7,624.2 L1512.3,623.2 L1513.6,622.2 L1515.1,621.2 L1516.9,620.7 L1518.4,620.1 L1520.0,619.1 L1521.5,618.3 L1523.0,617.4 L1524.5,616.2 L1526.1,615.6 L1527.6,614.5 L1529.0,613.6 L1530.7,613.5 L1532.2,612.2 L1533.7,611.7 L1535.2,610.4 L1536.6,609.7 L1538.2,608.9 L1539.8,608.5 L1541.2,607.4 L1542.7,606.2 L1544.5,605.7 L1546.0,604.8 L1547.3,603.8 L1549.0,603.4 L1550.7,602.0 L1552.0,600.6 L1553.6,599.6 L1555.0,598.4 L1556.5,597.8 L1558.1,597.0 L1559.6,595.9 L1561.1,594.1 L1562.8,593.3 L1564.4,592.3 L1565.9,591.9 L1567.7,591.0 L1569.2,589.4 L1570.7,589.1 L1572.1,588.4 L1573.3,587.5 L1574.6,585.8 L1575.5,585.5 L1576.7,584.2 L1577.5,584.0 L1578.3,583.3 L1579.2,581.7 L1580.0,581.3 L1580.8,580.6 L1581.5,579.7 L1582.3,578.6 L1583.1,577.3 L1583.7,576.5 L1584.5,575.5 L1584.9,574.2 L1585.2,574.0 L1585.8,573.3 L1585.7,568.6 L1585.9,564.2 L1585.8,559.3 L1585.8,555.2 L1585.8,550.5 L1585.9,546.1 L1586.0,540.9 L1585.8,536.6 L1585.9,532.5 L1586.1,528.4 L1585.9,524.0 L1586.1,519.7 L1586.1,515.1 L1586.2,511.6 L1586.2,507.7 L1586.1,502.9 L1586.2,499.5 L1586.1,495.5 L1586.3,490.8 L1586.3,487.0 L1586.3,482.4 L1586.2,478.7 L1586.4,474.2 L1586.3,470.3 L1586.5,465.6 L1586.5,462.1 L1586.6,457.5 L1586.5,453.4 L1586.4,448.9 L1586.5,445.2 L1586.6,440.3 L1586.6,435.5 L1586.6,430.3 L1586.9,425.9 L1586.7,421.3 L1586.9,416.7 L1586.9,412.6 L1586.9,408.1 L1586.8,404.7 L1587.1,400.0 L1587.1,394.9 L1587.2,390.2 L1587.3,385.6 L1587.4,380.9 L1587.3,375.2 L1587.3,370.5 L1587.4,365.5 L1587.6,361.4 L1587.7,356.7 L1587.9,351.2 L1587.9,346.7 L1587.8,342.5 L1588.0,337.5 L1588.2,333.3 L1588.3,328.2 L1588.3,323.3 L1588.5,319.7 L1588.4,314.4 L1588.5,310.3 L1588.8,306.4 L1588.8,301.5 L1588.9,297.9 L1589.0,294.0 L1588.9,289.1 L1589.2,284.7 L1589.2,278.9 L1589.3,274.2 L1589.2,269.2 L1589.4,264.3 L1589.5,259.7 L1589.5,255.4 L1589.7,251.1 L1589.7,247.0 L1589.6,241.9 L1589.7,236.0 L1589.9,230.7 L1589.7,225.0 L1589.7,220.7 L1589.9,215.7 L1589.9,211.2 L1590.0,207.1 L1589.9,199.5 L1589.8,193.2 L1590.0,188.6 L1590.3,188.3 L1590.9,187.0 L1591.5,185.8 L1592.5,184.7 L1593.3,183.6 L1594.4,182.6 L1595.6,181.3 L1597.0,179.8 L1598.7,177.7 L1600.3,176.2 L1602.0,174.6 L1604.0,173.6 L1606.3,171.9 L1608.5,169.5 L1611.4,167.3 L1614.4,165.5 L1617.9,163.1 L1621.7,161.0 L1625.8,158.1 L1630.4,156.0 L1634.8,153.3 L1639.7,150.5 L1644.1,148.0 L1648.4,146.2 L1652.8,143.6 L1656.9,141.4 L1661.3,139.7 L1665.4,137.4 L1669.8,136.0 L1674.1,134.0 L1678.3,131.8 L1682.9,130.4 L1687.4,128.5 L1691.9,127.2 L1696.5,126.1 L1701.0,123.9 L1705.8,123.0 L1710.5,121.5 L1715.1,120.8 L1720.0,119.1 L1724.7,118.5 L1729.2,117.5 L1733.9,116.7 L1738.5,116.2 L1743.5,115.6 L1748.5,114.8 L1754.0,114.0 L1759.9,113.3 L1766.5,112.1 L1773.1,111.1 L1780.2,109.7 L1787.6,108.8 L1795.1,107.7 L1799.1,107.9 L1803.0,106.8 L1807.3,106.4 L1811.3,106.3 L1815.7,105.9 L1820.1,105.1 L1824.6,105.4 L1828.9,104.5 L1833.9,104.6 L1838.6,103.9 L1843.6,103.7 L1848.7,104.1 L1853.7,103.6 L1859.0,103.1 L1864.2,103.6 L1869.3,102.9 L1874.6,102.8 L1879.7,103.0 L1884.9,102.3 L1889.9,102.2 L1895.0,102.6 L1900.1,102.4 L1905.2,102.2 L1910.2,101.7 L1915.9,102.0 L1921.2,101.4 L1926.9,101.3 L1932.5,100.9 L1938.0,101.3 L1943.4,100.9 L1948.8,101.4 L1954.0,101.2 L1958.6,101.4 L1963.3,100.5 L1971.1,100.7 L1977.0,100.8" fill="none" stroke="#4a9e45" stroke-width="2.7" stroke-linejoin="round" stroke-linecap="round" opacity="1.0"/><path d="M1977.0,171.0 L1971.8,170.9 L1966.6,171.6 L1961.7,171.1 L1956.8,171.3 L1952.0,171.3 L1947.5,171.7 L1943.1,171.7 L1938.9,171.7 L1934.4,171.7 L1929.7,171.5 L1924.8,171.6 L1920.1,171.9 L1915.3,171.9 L1910.4,172.2 L1905.8,172.4 L1900.9,172.5 L1896.0,172.6 L1891.5,172.6 L1887.0,172.6 L1882.4,172.5 L1877.8,172.8 L1872.6,173.0 L1867.2,172.8 L1862.2,172.8 L1858.1,173.1 L1854.0,173.7 L1849.9,173.5 L1845.8,173.0 L1841.9,173.4 L1836.3,173.5 L1832.9,173.9 L1830.7,173.5 L1829.3,174.0 L1827.2,173.7 L1824.5,174.0 L1820.0,174.3 L1813.7,174.2 L1806.2,174.5 L1802.1,174.4 L1798.0,174.7 L1793.8,174.3 L1789.5,174.3 L1785.2,174.9 L1780.9,175.4 L1776.9,175.0 L1773.0,175.5 L1765.8,175.2 L1760.0,175.5 L1755.8,175.4 L1752.6,175.8 L1750.4,175.7 L1748.8,176.2 L1747.2,175.9 L1745.4,175.9 L1743.1,176.3 L1740.0,176.1 L1736.1,176.6 L1731.5,177.4 L1726.6,177.1 L1721.2,178.1 L1715.7,177.7 L1710.5,178.6 L1705.3,179.3 L1700.0,180.1 L1694.9,180.4 L1689.6,181.2 L1684.1,182.2 L1678.7,183.5 L1673.6,184.1 L1668.5,185.0 L1664.0,186.1 L1660.0,187.3 L1656.6,187.9 L1653.4,188.9 L1650.9,189.5 L1648.3,190.8 L1646.0,191.2 L1644.2,192.4 L1642.0,192.6 L1640.1,193.9 L1638.1,194.8 L1636.3,195.0 L1634.5,195.5 L1633.0,196.2 L1631.4,196.5 L1630.1,197.5 L1628.5,198.5 L1627.1,198.4 L1625.6,199.8 L1624.1,200.6 L1622.6,201.1 L1621.5,202.2 L1620.1,202.8 L1618.7,204.0 L1617.3,205.0 L1616.0,206.1 L1614.7,206.4 L1613.2,207.0 L1612.1,207.7 L1610.6,208.5 L1609.4,209.9 L1608.2,210.7 L1606.8,210.8 L1605.8,211.9 L1604.6,212.9 L1603.3,213.8 L1602.2,215.3 L1601.3,215.8 L1600.2,216.9 L1599.1,218.4 L1598.2,219.6 L1597.1,220.4 L1595.9,221.1 L1595.0,223.1 L1593.7,224.4 L1592.7,225.3 L1591.6,227.2 L1590.5,228.5 L1589.4,229.2 L1588.7,230.2 L1587.7,231.9 L1587.0,232.9 L1586.2,233.3 L1585.6,234.3 L1585.1,235.3 L1584.4,236.1 L1583.9,237.2 L1583.4,237.8 L1582.9,239.4 L1582.6,239.9 L1582.2,240.9 L1582.0,241.7 L1581.8,242.8 L1581.5,244.0 L1581.3,244.3 L1581.4,244.7 L1581.1,248.9 L1580.8,252.3 L1580.3,257.6 L1579.9,263.5 L1579.4,270.4 L1579.3,273.9 L1579.1,277.9 L1579.0,283.0 L1578.9,288.3 L1578.6,293.9 L1578.5,299.7 L1578.5,304.6 L1578.4,309.8 L1578.3,314.9 L1578.3,319.3 L1578.3,323.4 L1578.2,327.6 L1578.1,332.8 L1578.1,337.6 L1578.1,342.4 L1578.1,347.4 L1578.1,351.9 L1578.1,356.3 L1578.0,360.9 L1578.1,364.9 L1578.2,369.4 L1578.2,373.7 L1578.0,377.4 L1578.0,382.1 L1578.1,386.0 L1578.1,390.5 L1578.1,394.4 L1578.2,398.6 L1578.1,402.6 L1578.0,407.3 L1578.1,411.2 L1577.9,414.7 L1577.9,419.6 L1578.0,424.4 L1577.9,429.0 L1578.0,433.6 L1578.1,438.0 L1578.0,441.7 L1577.9,446.1 L1577.9,449.6 L1577.9,454.9 L1577.8,458.9 L1577.9,464.1 L1577.6,468.1 L1577.5,472.9 L1577.5,477.3 L1577.6,482.6 L1577.5,488.8 L1577.4,494.6 L1577.2,499.4 L1577.2,504.5 L1577.1,509.6 L1577.0,514.0 L1576.9,517.9 L1576.6,525.2 L1576.6,530.8 L1576.3,531.2 L1575.7,532.1 L1575.1,533.9 L1574.2,535.0 L1573.6,536.5 L1572.5,537.6 L1571.2,539.3 L1570.0,540.7 L1568.4,542.4 L1566.7,544.7 L1564.7,546.3 L1562.7,548.5 L1560.6,550.4 L1558.2,552.8 L1556.0,554.4 L1554.0,556.3 L1551.9,557.7 L1549.8,559.1 L1547.8,560.2 L1545.8,561.8 L1543.5,562.5 L1541.4,563.6 L1539.1,564.7 L1536.9,566.2 L1534.7,566.7 L1532.3,568.0 L1529.9,568.6 L1527.4,569.4 L1525.3,570.9 L1522.6,571.7 L1520.5,572.3 L1517.9,573.0 L1515.8,573.4 L1514.0,573.9 L1512.3,575.0 L1510.3,575.8 L1508.4,575.8 L1506.0,576.3 L1503.2,577.5 L1500.1,577.8 L1496.0,579.0 L1491.6,580.3 L1486.5,581.2 L1481.5,582.3 L1475.9,582.9 L1470.6,584.1 L1465.1,585.2 L1460.0,586.3 L1455.2,586.2 L1451.0,587.3 L1446.8,587.8 L1442.6,588.4 L1437.9,588.3 L1432.7,588.5 L1426.9,588.7 L1420.1,589.2 L1415.9,590.2 L1411.8,589.6 L1407.3,590.0 L1402.9,590.1 L1398.0,591.1 L1393.0,591.0 L1387.7,591.5 L1382.5,591.5 L1377.1,591.8 L1371.8,592.4 L1366.5,592.1 L1360.9,592.6 L1355.6,592.7 L1350.2,592.7 L1345.1,593.3 L1340.1,593.9 L1335.1,594.1 L1330.1,594.0 L1325.0,593.6 L1319.9,594.3 L1314.8,594.3 L1309.9,594.4 L1304.8,594.4 L1299.6,595.0 L1294.5,594.5 L1289.7,594.8 L1284.5,595.1 L1279.6,595.2 L1274.7,595.2 L1269.8,595.2 L1264.8,595.1 L1260.1,595.5 L1254.8,595.9 L1249.8,595.4 L1244.5,595.6 L1239.1,596.0 L1233.6,596.1 L1228.1,596.2 L1222.9,595.9 L1217.5,596.0 L1212.4,596.8 L1207.4,596.8 L1203.0,596.3 L1198.5,596.9 L1190.6,597.2 L1185.0,597.0" fill="none" stroke="#0b6aa8" stroke-width="2.7" stroke-linejoin="round" stroke-linecap="round" opacity="1.0"/><path d="M1185.0,600.0 L1190.7,599.6 L1198.5,599.8 L1203.0,599.3 L1207.5,599.2 L1212.4,599.4 L1217.4,599.5 L1222.8,599.1 L1228.3,599.1 L1233.8,599.2 L1239.2,599.0 L1244.6,599.2 L1249.8,598.9 L1254.9,598.8 L1260.0,598.8 L1264.8,598.3 L1269.8,598.7 L1274.8,597.8 L1279.7,597.7 L1284.7,598.3 L1289.5,598.3 L1294.7,597.5 L1299.6,597.6 L1304.8,597.6 L1309.7,597.0 L1314.7,597.6 L1319.8,597.2 L1324.9,597.2 L1329.9,596.5 L1335.1,596.7 L1340.1,596.8 L1345.3,595.9 L1350.2,595.8 L1355.6,596.2 L1361.0,595.2 L1366.3,595.6 L1371.8,595.0 L1377.1,594.5 L1382.6,594.4 L1387.8,594.4 L1392.8,593.8 L1397.8,594.1 L1402.8,593.0 L1407.3,593.1 L1411.9,593.0 L1415.9,592.6 L1419.9,592.6 L1426.9,591.7 L1432.8,592.3 L1437.8,591.3 L1442.5,591.2 L1446.7,591.2 L1450.9,591.0 L1455.3,590.9 L1460.1,589.6 L1465.2,589.6 L1470.6,588.8 L1476.0,587.7 L1481.3,586.4 L1486.7,586.0 L1491.6,584.8 L1496.0,583.9 L1500.1,582.8 L1503.4,581.9 L1506.1,581.1 L1508.4,580.3 L1510.5,580.1 L1512.5,578.8 L1514.2,578.0 L1516.2,577.1 L1518.3,577.0 L1520.6,575.9 L1522.9,575.1 L1524.9,574.2 L1527.1,573.7 L1529.4,573.2 L1531.8,572.2 L1534.2,571.6 L1536.6,570.3 L1539.6,570.0 L1542.6,568.7 L1546.0,567.5 L1549.2,565.9 L1552.7,564.4 L1555.7,562.9 L1558.6,561.8 L1561.3,560.5 L1563.3,559.3 L1565.3,558.6 L1566.9,556.7 L1568.4,556.2 L1569.7,554.1 L1571.1,553.6 L1572.1,551.8 L1573.3,551.0 L1574.7,550.1 L1575.7,548.8 L1576.5,548.4 L1577.4,547.3 L1578.2,546.4 L1578.9,545.6 L1579.8,544.8 L1580.8,543.7 L1581.8,542.3 L1582.9,540.7 L1584.2,539.7 L1585.3,537.7 L1586.3,536.9 L1587.2,535.0 L1588.0,534.0 L1588.8,533.1 L1588.8,527.2 L1588.8,519.4 L1588.9,514.8 L1588.9,509.8 L1589.0,504.4 L1589.0,499.5 L1589.1,493.3 L1589.1,488.1 L1589.1,483.4 L1589.1,479.9 L1589.1,475.0 L1589.2,471.3 L1589.3,466.8 L1589.4,462.5 L1589.4,458.1 L1589.3,453.9 L1589.4,450.0 L1589.6,445.2 L1589.8,440.8 L1589.6,436.0 L1589.9,431.7 L1589.8,425.8 L1590.1,420.9 L1590.2,417.1 L1590.2,413.0 L1590.3,409.0 L1590.2,405.4 L1590.2,401.1 L1590.3,396.9 L1590.5,393.0 L1590.5,388.6 L1590.6,384.8 L1590.9,380.5 L1590.8,376.1 L1590.9,372.1 L1591.0,366.8 L1591.2,362.0 L1591.2,357.1 L1591.3,351.9 L1591.4,347.5 L1591.7,342.2 L1591.8,338.5 L1591.8,334.0 L1592.0,330.4 L1592.1,324.9 L1592.4,319.4 L1592.6,315.2 L1592.8,310.6 L1593.0,306.5 L1593.4,301.9 L1593.9,295.4 L1594.2,287.9 L1594.6,282.6 L1595.0,276.5 L1595.4,270.2 L1595.7,263.5 L1596.2,257.4 L1596.4,252.3 L1596.8,246.8 L1597.1,241.1 L1597.1,237.4 L1597.4,233.0 L1597.5,230.3 L1597.7,229.8 L1598.0,230.1 L1598.4,229.4 L1598.8,228.4 L1599.3,227.7 L1599.9,227.1 L1600.6,226.4 L1601.4,225.1 L1602.2,224.6 L1603.2,223.5 L1604.0,223.1 L1605.2,221.9 L1606.2,220.4 L1607.4,219.3 L1608.6,218.7 L1610.0,217.8 L1611.3,216.3 L1612.9,215.8 L1614.3,214.7 L1615.9,214.1 L1617.6,212.9 L1619.2,211.5 L1620.9,211.0 L1622.8,209.5 L1624.7,208.3 L1626.9,207.1 L1628.8,206.9 L1630.9,205.6 L1633.1,204.2 L1635.3,203.1 L1637.8,202.7 L1640.1,201.0 L1642.3,200.2 L1644.4,199.5 L1646.4,198.9 L1648.4,197.7 L1651.0,196.5 L1653.6,196.0 L1656.5,194.7 L1660.1,193.5 L1664.1,192.5 L1668.6,191.7 L1673.6,190.4 L1678.8,189.6 L1684.0,188.7 L1689.5,188.0 L1694.9,186.9 L1700.0,185.8 L1705.1,184.6 L1710.6,184.1 L1715.9,183.3 L1721.3,182.3 L1726.4,182.0 L1731.4,181.2 L1736.0,180.8 L1740.1,179.6 L1743.2,179.9 L1745.6,179.1 L1747.1,179.0 L1748.6,179.1 L1750.5,179.1 L1752.6,178.7 L1755.7,179.4 L1760.1,178.8 L1765.4,178.8 L1771.8,178.0 L1778.7,177.9 L1786.3,177.4 L1790.2,177.4 L1794.2,176.9 L1798.4,177.3 L1802.5,176.8 L1807.0,176.7 L1811.2,176.5 L1815.7,176.3 L1820.0,176.8 L1824.5,176.3 L1829.1,176.4 L1833.8,175.7 L1838.6,175.9 L1843.7,175.7 L1848.6,175.9 L1853.9,175.6 L1858.9,175.7 L1864.3,175.2 L1869.5,175.6 L1874.5,175.4 L1879.7,174.8 L1884.9,175.0 L1890.0,175.0 L1895.1,175.1 L1899.9,174.9 L1905.1,174.7 L1910.4,174.5 L1915.8,174.9 L1921.2,174.4 L1926.9,174.6 L1932.5,174.4 L1938.0,173.7 L1943.5,174.1 L1948.8,174.2 L1953.8,173.6 L1958.5,174.1 L1963.1,173.4 L1971.1,173.7 L1977.0,173.5" fill="none" stroke="#0b6aa8" stroke-width="2.7" stroke-linejoin="round" stroke-linecap="round" opacity="1.0"/><path d="M1977.0,340.0 L1972.0,340.3 L1967.5,340.1 L1962.4,340.5 L1957.6,340.4 L1952.8,340.8 L1947.8,339.9 L1942.6,340.5 L1937.7,341.3 L1933.0,340.3 L1928.3,340.4 L1923.7,340.9 L1918.8,340.7 L1914.3,340.6 L1910.3,341.4 L1905.9,340.7 L1901.3,340.5 L1897.1,341.0 L1892.8,341.2 L1888.4,341.1 L1884.0,340.9 L1879.7,341.5 L1874.9,341.2 L1870.6,341.4 L1866.2,341.4 L1861.9,342.1 L1857.6,342.0 L1853.6,341.9 L1849.2,342.5 L1845.0,342.4 L1840.6,341.9 L1836.3,341.4 L1831.9,341.5 L1827.2,341.7 L1822.8,342.3 L1818.3,342.3 L1813.7,342.6 L1809.0,342.0 L1804.7,341.9 L1800.2,342.1 L1795.2,342.0 L1790.9,343.2 L1786.1,342.9 L1780.4,343.3 L1775.0,342.2 L1770.2,343.0 L1765.6,343.2 L1758.0,342.4 L1751.4,342.5 L1745.2,342.3 L1738.9,342.6 L1731.7,342.4 L1724.3,343.7 L1716.9,342.5 L1710.0,343.6 L1703.2,343.6 L1696.7,343.7 L1690.5,343.9 L1684.1,343.6 L1677.8,343.8 L1671.4,345.1 L1664.8,344.6 L1658.0,344.5 L1651.8,344.8 L1645.7,344.4 L1639.7,345.6 L1634.6,345.2 L1629.8,344.8 L1626.2,346.0 L1623.4,345.1 L1621.0,345.0 L1618.8,346.4 L1616.9,346.5 L1615.3,345.4 L1613.3,346.2 L1611.1,346.8 L1608.7,347.2 L1606.3,346.6 L1604.0,347.1 L1601.6,348.6 L1599.3,348.6 L1596.8,349.2 L1594.6,349.9 L1592.6,350.3 L1590.8,350.6 L1589.1,350.9 L1587.1,352.6 L1585.5,353.1 L1584.2,353.1 L1582.5,353.1 L1581.7,353.6 L1580.6,354.6 L1580.4,356.4 L1580.3,359.0 L1580.4,361.8 L1580.1,365.3 L1580.0,368.5 L1579.9,373.3 L1579.9,377.0 L1579.6,380.6 L1579.7,384.1 L1579.6,388.1 L1579.3,392.5 L1579.1,396.1 L1578.9,400.4 L1579.0,404.0 L1579.0,406.8 L1578.8,409.3 L1578.2,410.3 L1577.6,409.6 L1576.5,410.7 L1575.9,410.3 L1574.6,411.7 L1573.3,411.6 L1571.8,412.1 L1570.2,411.8 L1568.2,412.7 L1565.5,412.5 L1562.8,413.6 L1560.2,413.0 L1557.2,413.2 L1554.4,413.5 L1552.0,414.8 L1550.2,414.8 L1548.5,414.6 L1547.6,415.4 L1546.9,415.3 L1546.1,415.5 L1545.7,416.0 L1544.2,416.1 L1542.6,415.7 L1540.2,416.7 L1537.1,416.4 L1534.1,418.0 L1530.9,418.2 L1527.0,418.8 L1522.2,418.9 L1516.5,419.9 L1509.2,419.7 L1504.7,420.2 L1500.2,419.9 L1494.9,421.0 L1489.2,421.3 L1483.2,420.5 L1477.4,420.8 L1473.0,421.8 L1468.6,421.7 L1464.1,421.9 L1459.5,421.8 L1454.7,422.1 L1449.6,421.2 L1444.5,422.4 L1439.2,422.1 L1434.2,422.5 L1429.6,422.1 L1425.4,421.7 L1421.5,422.2 L1417.2,422.3 L1412.6,422.1 L1408.1,423.0 L1403.7,422.3 L1399.0,422.4 L1394.4,422.7 L1389.6,423.3 L1384.6,423.2 L1379.8,423.5 L1375.4,422.7 L1371.3,422.9 L1366.6,423.7 L1362.4,423.8 L1357.8,423.3 L1353.8,423.4 L1349.4,423.0 L1345.1,423.0 L1340.6,422.9 L1336.1,424.3 L1331.9,424.1 L1327.8,423.5 L1323.7,423.9 L1320.0,423.9 L1315.8,424.5 L1312.0,424.2 L1307.6,424.2 L1303.8,424.7 L1299.6,424.3 L1295.6,424.0 L1291.5,424.5 L1287.5,424.3 L1283.2,425.0 L1278.9,424.8 L1275.1,424.5 L1270.3,424.8 L1265.9,424.8 L1261.2,423.9 L1256.4,424.1 L1252.0,425.2 L1247.0,424.9 L1242.9,424.2 L1238.6,425.2 L1234.5,424.6 L1230.4,424.7 L1226.0,424.9 L1222.0,425.3 L1217.7,425.4 L1213.3,425.8 L1209.1,425.5 L1204.7,424.8 L1200.6,425.8 L1195.5,425.2 L1190.0,425.5 L1185.0,425.5" fill="none" stroke="#d41f3d" stroke-width="2.7" stroke-linejoin="round" stroke-linecap="round" opacity="1.0"/><path d="M1185.0,429.5 L1190.3,428.9 L1195.5,428.9 L1200.5,428.6 L1204.7,429.0 L1209.2,429.7 L1213.2,428.7 L1217.7,428.5 L1221.7,428.7 L1225.9,428.4 L1230.2,428.5 L1234.7,428.3 L1238.6,429.1 L1242.9,428.9 L1247.2,428.8 L1251.7,427.8 L1256.5,428.1 L1261.1,428.3 L1265.8,427.7 L1270.3,428.5 L1275.0,427.6 L1279.2,427.4 L1283.3,427.1 L1287.5,427.7 L1291.4,428.2 L1295.5,427.1 L1299.5,427.5 L1303.9,427.6 L1307.8,427.7 L1311.7,426.9 L1315.9,427.8 L1319.9,427.3 L1324.0,426.8 L1328.1,427.2 L1331.9,426.7 L1336.4,426.5 L1340.5,427.2 L1344.9,426.6 L1349.3,427.1 L1353.4,426.2 L1357.7,426.2 L1362.3,426.8 L1366.8,426.3 L1371.1,426.3 L1375.5,426.6 L1380.1,426.5 L1384.6,426.2 L1389.7,425.9 L1394.5,426.3 L1399.2,426.2 L1403.7,426.2 L1408.0,425.9 L1412.7,425.7 L1417.1,424.9 L1421.4,425.9 L1425.5,425.0 L1429.7,424.8 L1434.1,426.0 L1439.4,425.0 L1444.5,424.6 L1449.8,424.9 L1454.3,425.3 L1459.2,424.7 L1464.0,424.9 L1468.6,425.4 L1472.8,425.3 L1477.2,424.4 L1483.4,424.5 L1489.3,424.7 L1494.6,424.9 L1499.9,424.9 L1504.6,424.3 L1508.8,424.5 L1515.9,423.9 L1521.7,422.9 L1526.3,423.5 L1530.0,422.8 L1533.3,422.7 L1536.4,422.8 L1540.2,422.4 L1543.7,421.5 L1546.7,421.0 L1549.0,420.9 L1551.4,421.4 L1553.6,420.9 L1555.5,420.3 L1557.7,420.1 L1559.9,420.3 L1562.4,419.4 L1564.8,419.1 L1567.2,417.8 L1569.8,417.6 L1572.3,416.9 L1574.5,416.4 L1576.4,415.4 L1577.8,414.1 L1579.3,414.5 L1580.8,413.7 L1581.7,412.9 L1582.6,412.9 L1583.7,412.1 L1584.0,411.6 L1584.7,412.4 L1585.3,411.5 L1585.2,408.5 L1585.4,406.1 L1585.7,402.3 L1586.2,397.6 L1586.3,393.0 L1586.4,387.4 L1586.8,383.7 L1586.9,379.7 L1587.0,377.2 L1587.5,373.9 L1587.9,370.0 L1588.0,366.9 L1588.2,364.7 L1588.1,361.0 L1588.3,359.8 L1588.4,357.3 L1589.4,358.2 L1590.3,356.9 L1591.7,357.2 L1592.8,356.5 L1594.5,356.9 L1595.9,356.1 L1597.3,355.2 L1599.1,354.9 L1600.1,354.8 L1601.5,353.8 L1603.1,353.8 L1604.6,353.5 L1606.0,352.1 L1607.7,351.6 L1609.3,351.6 L1611.3,351.7 L1612.9,351.3 L1614.9,350.8 L1616.4,351.2 L1618.5,349.8 L1620.5,350.9 L1623.1,349.9 L1626.4,350.3 L1630.1,349.9 L1633.9,348.7 L1638.4,349.4 L1642.5,348.0 L1647.5,348.9 L1653.2,348.2 L1660.1,347.9 L1668.0,347.0 L1672.2,346.5 L1677.1,346.4 L1682.4,347.1 L1687.3,347.1 L1693.0,346.5 L1698.7,346.8 L1703.2,346.8 L1706.9,346.7 L1711.3,346.5 L1715.8,346.1 L1720.3,346.3 L1724.6,345.1 L1729.6,345.3 L1734.4,344.8 L1739.4,344.8 L1744.7,345.8 L1749.8,344.7 L1755.1,344.7 L1759.2,344.5 L1763.6,345.0 L1767.6,344.3 L1772.0,345.3 L1776.6,344.2 L1780.9,344.4 L1785.6,344.1 L1790.0,345.2 L1794.3,343.7 L1798.3,343.8 L1802.7,344.4 L1806.9,344.2 L1811.1,344.3 L1815.3,344.7 L1819.5,344.5 L1823.7,344.5 L1827.7,343.3 L1831.9,344.4 L1835.9,344.3 L1840.3,344.4 L1844.9,344.0 L1849.3,343.4 L1853.9,343.3 L1858.3,343.4 L1863.1,343.7 L1867.7,343.8 L1872.3,344.0 L1876.8,343.0 L1881.2,343.1 L1885.8,342.8 L1890.7,343.7 L1895.0,343.4 L1899.6,343.5 L1904.1,343.0 L1908.2,343.3 L1912.8,343.0 L1917.3,342.8 L1921.6,342.2 L1925.4,342.9 L1929.5,343.2 L1933.5,343.1 L1937.7,343.2 L1941.5,342.0 L1945.7,343.0 L1949.6,342.0 L1954.0,343.0 L1957.9,342.2 L1962.1,342.5 L1967.1,342.5 L1971.9,341.7 L1977.0,342.0" fill="none" stroke="#d41f3d" stroke-width="2.7" stroke-linejoin="round" stroke-linecap="round" opacity="1.0"/><line x1="313.6" y1="99.9" x2="313.6" y2="326.5" stroke="#858585" stroke-width="2.6"/><line x1="312.3" y1="325.4" x2="590" y2="325.4" stroke="#858585" stroke-width="2.4"/><line x1="313.6" y1="235.39999999999998" x2="318.6" y2="235.39999999999998" stroke="#858585" stroke-width="1.5"/><line x1="313.6" y1="145.39999999999998" x2="318.6" y2="145.39999999999998" stroke="#858585" stroke-width="1.5"/><line x1="369.85" y1="325.4" x2="369.85" y2="323.4" stroke="#858585" stroke-width="1.4"/><line x1="426.1" y1="325.4" x2="426.1" y2="323.4" stroke="#858585" stroke-width="1.4"/><line x1="482.35" y1="325.4" x2="482.35" y2="323.4" stroke="#858585" stroke-width="1.4"/><line x1="538.6" y1="325.4" x2="538.6" y2="323.4" stroke="#858585" stroke-width="1.4"/><text transform="translate(293.52,153.90) scale(0.9415,1.0)" x="0" y="0" font-size="31" style="">2</text><text transform="translate(294.45,242.80) scale(0.8613,1.0)" x="0" y="0" font-size="31" style="">1</text><text transform="translate(293.28,331.60) scale(0.9514,1.0)" x="0" y="0" font-size="31" style="">0</text><text transform="translate(307.05,352.50) scale(0.9742,1.0)" x="0" y="0" font-size="31" style="">0</text><text transform="translate(405.48,352.50) scale(0.8874,1.0)" x="0" y="0" font-size="31" style="">100</text><text transform="translate(516.70,352.50) scale(0.9555,1.0)" x="0" y="0" font-size="31" style="">200</text><path d="M319.3,118.1 L325.1,126.7 L336.3,140.2 L381.0,172.4 L414.6,216.8 L482.0,257.0" fill="none" stroke="#5a2fa6" stroke-width="2.5" stroke-linejoin="round" stroke-linecap="round" opacity="1.0"/><path d="M319.3,197.8 L326.5,197.8 L369.5,213.5 L425.6,252.8 L482.3,233.0 L538.5,253.6" fill="none" stroke="#000" stroke-width="2.5" stroke-linejoin="round" stroke-linecap="round" opacity="1.0"/><path d="M319.3,235.3 L325.5,252.9 L336.3,264.6 L358.8,288.5 L381.0,306.7" fill="none" stroke="#a8309f" stroke-width="2.5" stroke-linejoin="round" stroke-linecap="round" opacity="1.0"/><circle cx="319.3" cy="118.1" r="5.6" fill="#3b2c9e"/><circle cx="325.1" cy="126.7" r="5.6" fill="#3b2c9e"/><circle cx="336.3" cy="140.2" r="5.6" fill="#3b2c9e"/><circle cx="381.0" cy="172.4" r="5.6" fill="#3b2c9e"/><circle cx="414.6" cy="216.8" r="5.6" fill="#3b2c9e"/><circle cx="482.0" cy="257.0" r="5.6" fill="#3b2c9e"/><path d="M313.3,202.3 L325.3,202.3 L319.3,192.3 Z" fill="#000"/><path d="M320.5,202.3 L332.5,202.3 L326.5,192.3 Z" fill="#000"/><path d="M363.5,218.0 L375.5,218.0 L369.5,208.0 Z" fill="#000"/><path d="M419.6,257.3 L431.6,257.3 L425.6,247.3 Z" fill="#000"/><path d="M476.3,237.5 L488.3,237.5 L482.3,227.5 Z" fill="#000"/><path d="M532.5,258.1 L544.5,258.1 L538.5,248.1 Z" fill="#000"/><rect x="314.3" y="230.3" width="10" height="10" fill="#a52a9c"/><rect x="320.5" y="247.9" width="10" height="10" fill="#a52a9c"/><rect x="331.3" y="259.6" width="10" height="10" fill="#a52a9c"/><rect x="353.8" y="283.5" width="10" height="10" fill="#a52a9c"/><rect x="376.0" y="301.7" width="10" height="10" fill="#a52a9c"/><path transform="translate(361.50,106.70) scale(1.0)" d="M0.83,-19.83 L4.13,-19.83 L4.13,-4.4 C4.5,-2.4 6.0,-1.0 7.88,-1.0 C10.0,-1.0 12.2,-2.9 12.94,-5.8 L12.94,-19.83 L16.03,-19.83 L16.03,-3.75 C16.3,-1.5 17.5,-0.45 18.45,-0.45 C19.4,-0.45 20.1,-2.0 20.65,-3.75 L20.87,-3.09 C20.5,-1.2 19.3,0.87 18.0,0.87 C16.5,0.87 14.2,0.4 13.6,-0.89 C12.8,0.3 11.5,1.2 9.5,1.25 C7.0,1.4 4.5,1.0 2.37,-0.1 C2.8,1.5 3.6,4.0 3.47,5.06 C3.5,6.5 2.7,7.92 1.71,7.92 C0.8,7.92 0.17,6.5 0.17,5.5 C0.17,3.5 0.83,0 0.83,-2.87 Z" fill="#000"/><text transform="translate(382.15,119.50) scale(0.9870,1.0)" x="0" y="0" font-size="30.6" style="">0</text><text transform="translate(397.90,106.70) scale(1.0262,1.0)" x="0" y="0" font-size="45.6" style="font-style:italic;">H</text><text transform="translate(428.53,119.50) scale(1.0913,1.0)" x="0" y="0" font-size="28.1" style="">с</text><text transform="translate(446.26,106.70) scale(0.9767,1.0)" x="0" y="0" font-size="44" style="">,</text><text transform="translate(466.08,106.70) scale(1.0142,1.0)" x="0" y="0" font-size="44" style="">мТл</text><text transform="translate(415.25,316.60) scale(1.0256,1.0)" x="0" y="0" font-size="45.4" style="font-style:italic;">T</text><text transform="translate(441.19,316.60) scale(0.9614,1.0)" x="0" y="0" font-size="44" style="">,</text><text transform="translate(462.70,316.60) scale(1.0247,1.0)" x="0" y="0" font-size="44" style="">K</text></svg>
</body></html>
